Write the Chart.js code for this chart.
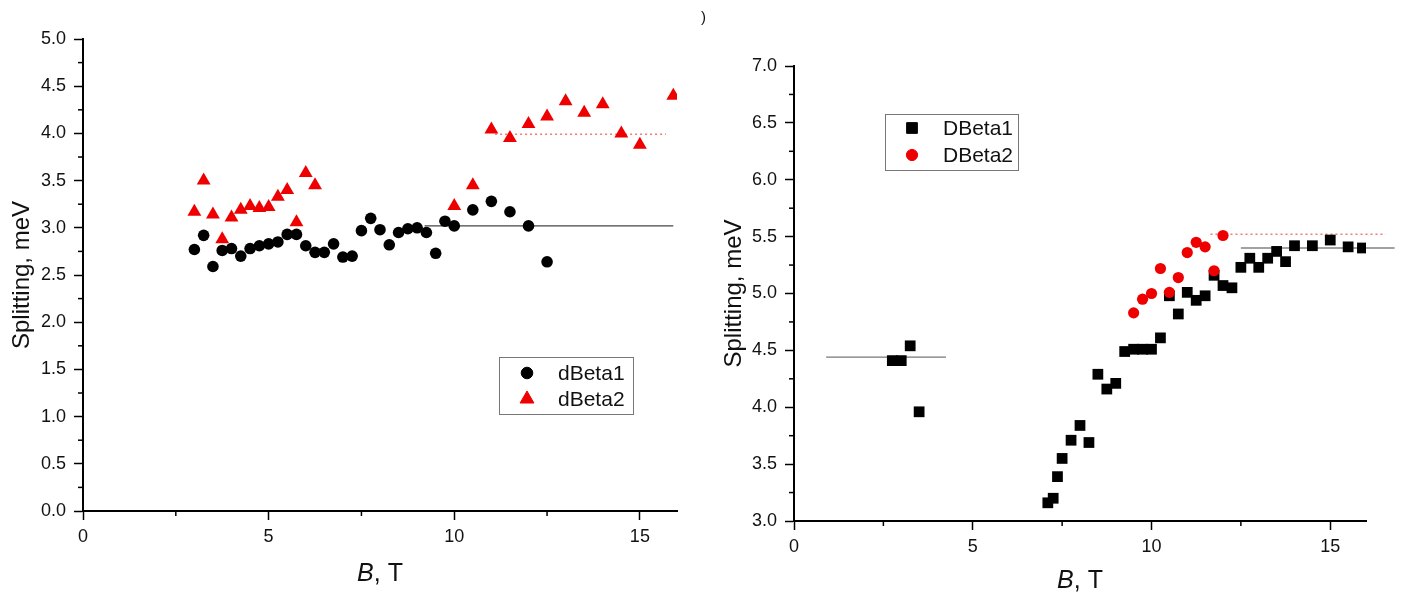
<!DOCTYPE html>
<html>
<head>
<meta charset="utf-8">
<script src="https://cdn.jsdelivr.net/npm/chart.js@4/dist/chart.umd.min.js"></script>
<style>
  body { margin: 0; background: #fff; width: 1405px; height: 593px; overflow: hidden; position: relative;
         font-family: 'Liberation Sans', Arial, sans-serif; }
  .panel { position: absolute; top: 0; height: 593px; }
  #left { left: 0; width: 700px; }
  #right { left: 700px; width: 705px; }
  .mark { position: absolute; left: 701px; top: 8px; font-size: 15px; color: #111; }
</style>
</head>
<body>
<div class="panel" id="left"><canvas id="chartA"></canvas></div>
<div class="panel" id="right"><canvas id="chartB"></canvas></div>
<div class="mark">)</div>
<script>
// left panel data
const leftLabels = ['dBeta1', 'dBeta2'];
const dBeta1B = [3.0, 3.25, 3.5, 3.75, 4.0, 4.25, 4.5, 4.75, 5.0, 5.25, 5.5, 5.75, 6.0, 6.25, 6.5, 6.75, 7.0, 7.25,
                 7.5, 7.75, 8.0, 8.25, 8.5, 8.75, 9.0, 9.25, 9.5, 9.75, 10.0, 10.5, 11.0, 11.5, 12.0, 12.5];
const dBeta1 = [2.77, 2.92, 2.59, 2.76, 2.78, 2.70, 2.78, 2.81, 2.83, 2.85, 2.93, 2.93, 2.81, 2.74, 2.74, 2.83, 2.69, 2.70,
                2.97, 3.10, 2.98, 2.82, 2.95, 2.99, 3.00, 2.95, 2.73, 3.07, 3.02, 3.19, 3.28, 3.17, 3.02, 2.64];
const dBeta2B = [3.0, 3.25, 3.5, 3.75, 4.0, 4.25, 4.5, 4.75, 5.0, 5.25, 5.5, 5.75, 6.0, 6.25,
                 10.0, 10.5, 11.0, 11.5, 12.0, 12.5, 13.0, 13.5, 14.0, 14.5, 15.0, 15.9];
const dBeta2 = [3.17, 3.50, 3.14, 2.88, 3.11, 3.19, 3.23, 3.21, 3.22, 3.33, 3.40, 3.06, 3.58, 3.45,
                3.23, 3.45, 4.04, 3.95, 4.10, 4.18, 4.34, 4.22, 4.31, 4.00, 3.88, 4.40];
// average lines (left)
const leftLevel1X = [9.2, 15.9], leftLevel1 = 3.02;
const leftLevel2X = [11.1, 15.7], leftLevel2 = 3.99;

// right panel data
const rightLabels = ['DBeta1', 'DBeta2'];
const DBeta1B = [2.75, 3.0, 3.25, 3.5, 7.1, 7.25, 7.37, 7.5, 7.75, 8.0, 8.25, 8.5, 8.75, 9.0,
                 9.25, 9.5, 9.75, 10.0, 10.25, 10.5, 10.75, 11.0, 11.25, 11.5,
                 11.75, 12.0, 12.25, 12.5, 12.75, 13.0, 13.25, 13.5, 13.75, 14.0, 14.5, 15.0, 15.5, 15.9];
const DBeta1 = [4.41, 4.41, 4.54, 3.96, 3.16, 3.20, 3.39, 3.55, 3.71, 3.84, 3.69, 4.29, 4.16, 4.21,
                4.49, 4.51, 4.51, 4.51, 4.61, 4.98, 4.82, 5.01, 4.94, 4.98,
                5.16, 5.07, 5.05, 5.23, 5.31, 5.23, 5.31, 5.37, 5.28, 5.42, 5.42, 5.47, 5.41, 5.40];
const DBeta2B = [9.5, 9.75, 10.0, 10.25, 10.5, 10.75, 11.0, 11.25, 11.5, 11.75, 12.0];
const DBeta2 = [4.83, 4.95, 5.00, 5.22, 5.01, 5.14, 5.36, 5.45, 5.41, 5.20, 5.51];
// average lines (right)
const rightLevel0X = [0.9, 4.25], rightLevel0 = 4.44;
const rightLevel1X = [12.5, 16.8], rightLevel1 = 5.40;
const rightLevel2X = [11.65, 16.55], rightLevel2 = 5.52;

const FONT = "'Liberation Sans', Arial, sans-serif";
const pts = (xs, ys) => xs.map((x, i) => ({ x: x, y: Array.isArray(ys) ? ys[i] : ys }));

// minor ticks, legend box and the "B, T" title
const extras = {
    id: 'extras',
    afterDraw(chart, args, opts) {
        const ctx = chart.ctx;
        const sx = chart.scales.x, sy = chart.scales.y;
        const area = chart.chartArea;
        ctx.save();
        ctx.strokeStyle = '#000';
        ctx.lineWidth = 1.5;
        // minor ticks
        for (let v = sx.min + opts.xMinor; v < sx.max; v += opts.xMinor) {
            if (Math.abs(v / opts.xMajor - Math.round(v / opts.xMajor)) < 1e-6) continue;
            const px = sx.getPixelForValue(v);
            ctx.beginPath(); ctx.moveTo(px, area.bottom); ctx.lineTo(px, area.bottom + 5); ctx.stroke();
        }
        for (let v = sy.min + opts.yMinor; v < sy.max; v += opts.yMinor) {
            if (Math.abs(v / opts.yMajor - Math.round(v / opts.yMajor)) < 1e-6) continue;
            const py = sy.getPixelForValue(v);
            ctx.beginPath(); ctx.moveTo(area.left, py); ctx.lineTo(area.left - 5, py); ctx.stroke();
        }
        // legend
        const lg = opts.legend;
        ctx.strokeStyle = '#777';
        ctx.lineWidth = 1;
        ctx.strokeRect(lg.box[0] + 0.5, lg.box[1] + 0.5, lg.box[2] - lg.box[0], lg.box[3] - lg.box[1]);
        ctx.font = '21px ' + FONT;
        ctx.textBaseline = 'middle';
        ctx.textAlign = 'left';
        lg.rows.forEach((ry, i) => {
            const ds = chart.data.datasets[lg.index[i]];
            ctx.fillStyle = ds.backgroundColor;
            ctx.strokeStyle = ds.borderColor;
            Chart.helpers.drawPoint(ctx, { pointStyle: ds.pointStyle, radius: ds.pointRadius, rotation: 0, borderWidth: 1 }, lg.markerX, ry);
            ctx.fillStyle = '#111';
            ctx.fillText(ds.label, lg.textX, ry + 1);
        });
        // x title: italic B, then ", T"
        const cx = (area.left + area.right) / 2;
        ctx.fillStyle = '#111';
        ctx.font = 'italic 25px ' + FONT;
        const wB = ctx.measureText('B').width;
        ctx.font = '25px ' + FONT;
        const wR = ctx.measureText(', T').width;
        const x0 = cx - (wB + wR) / 2;
        ctx.font = 'italic 25px ' + FONT;
        ctx.fillText('B', x0, opts.titleY);
        ctx.font = '25px ' + FONT;
        ctx.fillText(', T', x0 + wB, opts.titleY);
        ctx.restore();
    }
};

function axes(yW, xH, yMin, yMax, titlePad) {
    const tickFont = { family: FONT, size: 18 };
    return {
        x: {
            type: 'linear', min: 0, max: 16,
            ticks: { stepSize: 5, includeBounds: false, font: tickFont, color: '#111', padding: 6, maxRotation: 0 },
            grid: { drawOnChartArea: false, tickLength: 9, tickWidth: 1.5, tickColor: '#000' },
            border: { color: '#000', width: 2 },
            afterFit: s => { s.height = xH; }
        },
        y: {
            type: 'linear', min: yMin, max: yMax,
            ticks: { stepSize: 0.5, font: tickFont, color: '#111', padding: 8, callback: v => v.toFixed(1) },
            grid: { drawOnChartArea: false, tickLength: 9, tickWidth: 1.5, tickColor: '#000' },
            border: { color: '#000', width: 2 },
            title: { display: true, text: 'Splitting, meV', color: '#111', font: { family: FONT, size: 24 }, padding: { top: titlePad, bottom: 0 } },
            afterFit: s => { s.width = yW; }
        }
    };
}

const levelLine = (data, color, dash, width) => ({
    type: 'line', data: data, showLine: true, pointRadius: 0, borderColor: color,
    borderWidth: width, borderDash: dash, fill: false, clip: false, order: 3
});

new Chart(document.getElementById('chartA'), {
    type: 'scatter',
    data: {
        datasets: [
            { label: leftLabels[0], data: pts(dBeta1B, dBeta1), pointStyle: 'circle', pointRadius: 5.8,
              backgroundColor: '#000', borderColor: '#000', borderWidth: 0, order: 2 },
            { label: leftLabels[1], data: pts(dBeta2B, dBeta2), pointStyle: 'triangle', pointRadius: 8,
              backgroundColor: '#ee0000', borderColor: '#ee0000', borderWidth: 0, order: 1 },
            levelLine(pts(leftLevel1X, leftLevel1), '#444', [], 1.2),
            levelLine(pts(leftLevel2X, leftLevel2), '#f07a7a', [2, 3], 1.5)
        ]
    },
    options: {
        responsive: true, maintainAspectRatio: false, animation: false,
        layout: { padding: { top: 39, right: 23, bottom: 0, left: 0 } },
        plugins: {
            legend: { display: false }, tooltip: { enabled: false },
            extras: { xMinor: 2.5, xMajor: 5, yMinor: 0.25, yMajor: 0.5, titleY: 574,
                      legend: { box: [499, 357, 633, 414], rows: [373, 399], index: [0, 1], markerX: 527, textX: 558 } }
        },
        scales: axes(83, 82, 0, 5, 8)
    },
    plugins: [extras]
});

new Chart(document.getElementById('chartB'), {
    type: 'scatter',
    data: {
        datasets: [
            { label: rightLabels[0], data: pts(DBeta1B, DBeta1), pointStyle: 'rect', pointRadius: 7.6,
              backgroundColor: '#000', borderColor: '#000', borderWidth: 0, order: 2 },
            { label: rightLabels[1], data: pts(DBeta2B, DBeta2), pointStyle: 'circle', pointRadius: 5.6,
              backgroundColor: '#ee0000', borderColor: '#ee0000', borderWidth: 0, order: 1 },
            levelLine(pts(rightLevel0X, rightLevel0), '#777', [], 1.2),
            levelLine(pts(rightLevel1X, rightLevel1), '#444', [], 1.2),
            levelLine(pts(rightLevel2X, rightLevel2), '#f07a7a', [2, 3], 1.5)
        ]
    },
    options: {
        responsive: true, maintainAspectRatio: false, animation: false,
        layout: { padding: { top: 66, right: 39, bottom: 0, left: 0 } },
        plugins: {
            legend: { display: false }, tooltip: { enabled: false },
            extras: { xMinor: 2.5, xMajor: 5, yMinor: 0.25, yMajor: 0.5, titleY: 581,
                      legend: { box: [185, 114, 318, 170], rows: [128, 155], index: [0, 1], markerX: 212, textX: 243 } }
        },
        scales: axes(94, 72, 3, 7, 20)
    },
    plugins: [extras]
});
</script>
</body>
</html>
